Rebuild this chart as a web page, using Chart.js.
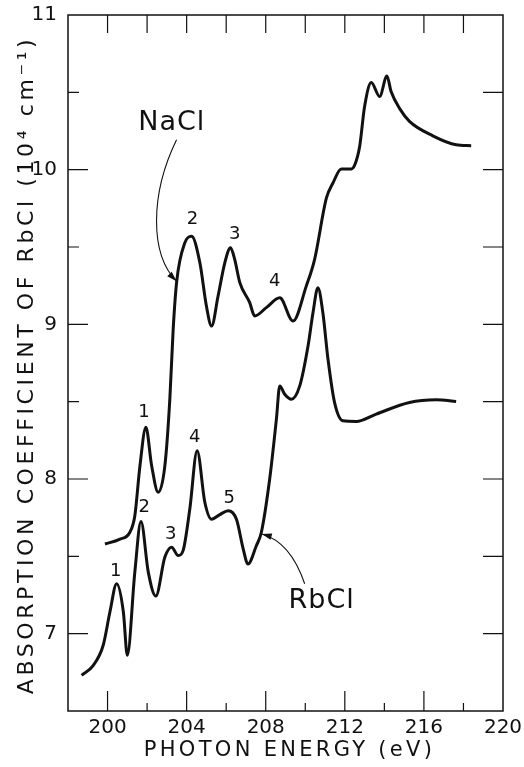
<!DOCTYPE html>
<html>
<head>
<meta charset="utf-8">
<script src="https://cdn.jsdelivr.net/npm/chart.js@4.4.1/dist/chart.umd.min.js"></script>
<style>
  html, body { margin: 0; padding: 0; background: #fff; }
  #wrap { width: 524px; height: 767px; position: relative; }
</style>
</head>
<body>
<div id="wrap"><canvas id="chart"></canvas></div>
<script>
// Absorption spectra near the Rb/Na-Cl core edge (photon energy in eV, absorption in 10^4 cm^-1)
const naclEnergy = [199.87, 200.6, 201.13, 201.38, 201.64, 201.94, 202.23, 202.56,
  202.9, 203.15, 203.32, 203.5, 203.91, 204.25, 204.67, 205.0, 205.26, 205.59, 205.93, 206.22,
  206.43, 206.69, 207.19, 207.44, 208.03, 208.71, 209.38, 210.05, 210.47, 211.07,
  211.4, 211.82, 212.33, 212.5, 212.75, 213.0, 213.34, 213.76, 214.13, 214.34, 214.8, 215.27,
  216.45, 217.63, 218.39];
const naclAbs = [7.58, 7.61, 7.656, 7.763, 8.086, 8.334, 8.086, 7.914,
  8.086, 8.516, 8.97, 9.28, 9.527, 9.57, 9.398, 9.118, 8.989, 9.183, 9.398, 9.495,
  9.42, 9.27, 9.14, 9.054, 9.108, 9.172, 9.021, 9.247, 9.419, 9.817,
  9.914, 10.005, 10.005, 10.03, 10.15, 10.408, 10.563, 10.473, 10.606, 10.505, 10.39, 10.312,
  10.219, 10.161, 10.155];

const rbclEnergy = [198.69, 199.28, 199.78, 200.12, 200.46, 200.8, 201.0, 201.38, 201.69,
  202.06, 202.44, 202.9, 203.24, 203.57, 203.82, 204.16, 204.53, 204.92, 205.26, 205.68,
  206.1, 206.52, 206.86, 207.1, 207.53, 207.78, 208.2, 208.54, 208.71, 208.96, 209.3, 209.72,
  210.14, 210.39, 210.64, 210.89, 211.15, 211.48, 211.9, 212.58, 213.59, 215.27, 216.62, 217.63];
const rbclAbs = [6.731, 6.795, 6.925, 7.14, 7.323, 7.14, 6.86, 7.398, 7.725,
  7.398, 7.243, 7.495, 7.559, 7.505, 7.537, 7.806, 8.183, 7.85, 7.74, 7.77,
  7.795, 7.74, 7.548, 7.45, 7.57, 7.656, 8.0, 8.387, 8.602, 8.548, 8.516, 8.602,
  8.86, 9.075, 9.237, 9.075, 8.774, 8.495, 8.376, 8.372, 8.42, 8.495, 8.512, 8.501];

const xTickLabels = [200, 204, 208, 212, 216, 220];
const yTickLabels = [7, 8, 9, 10, 11];

const xTitle = 'PHOTON ENERGY (eV)';
const yTitle = 'ABSORPTION COEFFICIENT OF RbCl (10\u2074 cm\u207B\u00B9)';

// Structure labels, placed in data coordinates
const peakLabels = [
  { text: '1', x: 201.84, y: 8.434 },
  { text: '2', x: 204.30, y: 9.677 },
  { text: '3', x: 206.43, y: 9.580 },
  { text: '4', x: 208.45, y: 9.280 },
  { text: '1', x: 200.42, y: 7.400 },
  { text: '2', x: 201.85, y: 7.817 },
  { text: '3', x: 203.20, y: 7.640 },
  { text: '4', x: 204.41, y: 8.270 },
  { text: '5', x: 206.15, y: 7.875 }
];
const curveNames = [
  { text: 'NaCl', x: 203.25, y: 10.30 },
  { text: 'RbCl', x: 210.83, y: 7.213 }
];
// Leader arrows: start, two control points, tip (data coordinates)
const leaders = [
  [[203.49, 10.194], [202.14, 9.839], [202.14, 9.452], [203.49, 9.279]],
  [[209.97, 7.323], [209.46, 7.516], [208.71, 7.613], [207.80, 7.645]]
];

const toPoints = (xs, ys) => xs.map((x, i) => ({ x, y: ys[i] }));

const frame = {
  id: 'frame',
  afterDraw(chart) {
    const { ctx, chartArea: a, scales } = chart;
    const xs = scales.x, ys = scales.y;
    ctx.save();
    ctx.strokeStyle = '#111';
    ctx.fillStyle = '#111';

    // plot box
    ctx.lineWidth = 1.5;
    ctx.strokeRect(a.left, a.top, a.right - a.left, a.bottom - a.top);

    // inward tick marks from the scales' own tick lists
    ctx.lineWidth = 1.2;
    ctx.beginPath();
    xs.ticks.forEach(t => {
      const px = xs.getPixelForValue(t.value);
      if (px <= a.left + 1 || px >= a.right - 1) return;
      const major = xTickLabels.includes(t.value);
      ctx.moveTo(px, a.bottom); ctx.lineTo(px, a.bottom - (major ? 20 : 8));
      ctx.moveTo(px, a.top); ctx.lineTo(px, a.top + 18);
    });
    ys.ticks.forEach(t => {
      const py = ys.getPixelForValue(t.value);
      if (py <= a.top + 1 || py >= a.bottom - 1) return;
      const major = yTickLabels.includes(t.value);
      ctx.moveTo(a.left, py); ctx.lineTo(a.left + (major ? 20 : 11), py);
      ctx.moveTo(a.right, py); ctx.lineTo(a.right - 20, py);
    });
    ctx.stroke();

    // leader arrows
    ctx.lineWidth = 1.1;
    leaders.forEach(pts => {
      const p = pts.map(([x, y]) => [xs.getPixelForValue(x), ys.getPixelForValue(y)]);
      ctx.beginPath();
      ctx.moveTo(p[0][0], p[0][1]);
      ctx.bezierCurveTo(p[1][0], p[1][1], p[2][0], p[2][1], p[3][0], p[3][1]);
      ctx.stroke();
      const ang = Math.atan2(p[3][1] - p[2][1], p[3][0] - p[2][0]);
      const L = 10, W = 3.2;
      ctx.beginPath();
      ctx.moveTo(p[3][0], p[3][1]);
      ctx.lineTo(p[3][0] - L * Math.cos(ang) + W * Math.sin(ang), p[3][1] - L * Math.sin(ang) - W * Math.cos(ang));
      ctx.lineTo(p[3][0] - L * Math.cos(ang) - W * Math.sin(ang), p[3][1] - L * Math.sin(ang) + W * Math.cos(ang));
      ctx.closePath();
      ctx.fill();
    });

    // text
    ctx.textAlign = 'center';
    ctx.textBaseline = 'middle';
    ctx.font = '18px "DejaVu Sans"';
    peakLabels.forEach(l => ctx.fillText(l.text, xs.getPixelForValue(l.x), ys.getPixelForValue(l.y)));
    ctx.font = '27px "DejaVu Sans"';
    ctx.letterSpacing = '1px';
    curveNames.forEach(l => ctx.fillText(l.text, xs.getPixelForValue(l.x), ys.getPixelForValue(l.y)));

    // axis titles
    ctx.font = '21px "DejaVu Sans"';
    ctx.letterSpacing = '3.3px';
    ctx.fillText(xTitle, (a.left + a.right) / 2 + 4, 751);
    ctx.save();
    ctx.translate(27, (a.top + a.bottom) / 2 + 2);
    ctx.rotate(-Math.PI / 2);
    ctx.font = '22px "DejaVu Sans"';
    ctx.letterSpacing = '3.6px';
    ctx.fillText(yTitle, 0, 0);
    ctx.restore();
    ctx.restore();
  }
};

const lineStyle = {
  borderColor: '#111',
  borderWidth: 3,
  pointRadius: 0,
  fill: false,
  cubicInterpolationMode: 'monotone'
};

new Chart(document.getElementById('chart'), {
  type: 'line',
  data: {
    datasets: [
      Object.assign({ label: 'NaCl', data: toPoints(naclEnergy, naclAbs) }, lineStyle),
      Object.assign({ label: 'RbCl', data: toPoints(rbclEnergy, rbclAbs) }, lineStyle)
    ]
  },
  options: {
    responsive: true,
    maintainAspectRatio: false,
    animation: false,
    devicePixelRatio: 1,
    layout: { padding: { left: 0, right: 21, top: 15, bottom: 0 } },
    plugins: { legend: { display: false }, tooltip: { enabled: false } },
    scales: {
      x: {
        type: 'linear',
        min: 198, max: 220,
        grid: { display: false, drawTicks: false },
        border: { display: false },
        afterFit(s) { s.height = 56; s.paddingLeft = 0; s.paddingRight = 0; },
        ticks: {
          stepSize: 2, autoSkip: false, maxRotation: 0, padding: 5,
          color: '#111',
          font: { family: 'DejaVu Sans', size: 20 },
          callback: v => xTickLabels.includes(v) ? String(v) : ''
        }
      },
      y: {
        type: 'linear',
        min: 6.5, max: 11,
        grid: { display: false, drawTicks: false },
        border: { display: false },
        afterFit(s) { s.width = 68; s.paddingTop = 0; s.paddingBottom = 0; },
        ticks: {
          stepSize: 0.5, autoSkip: false, padding: 11,
          color: '#111',
          font: { family: 'DejaVu Sans', size: 20 },
          callback: v => yTickLabels.includes(v) ? String(v) : ''
        }
      }
    }
  },
  plugins: [frame]
});
</script>
</body>
</html>
